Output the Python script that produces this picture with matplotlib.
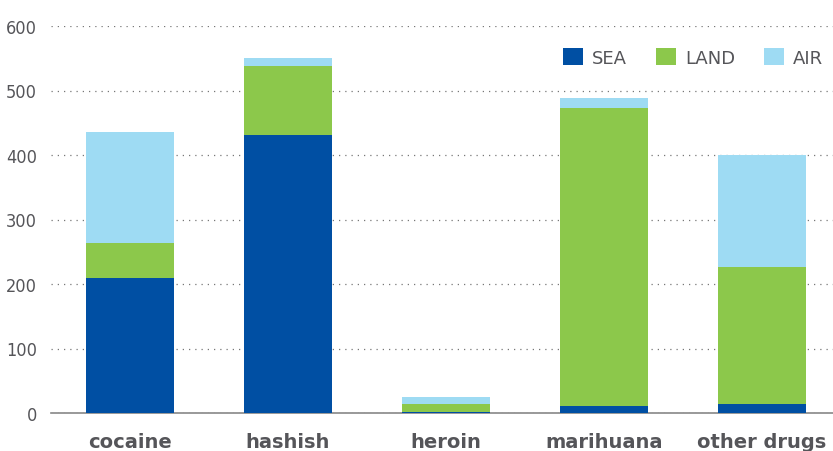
import numpy as np
import matplotlib.pyplot as plt

drugs = ["cocaine", "hashish", "heroin", "marihuana", "other drugs"]
sea = [209, 431, 1, 11, 14]
land = [55, 107, 13, 462, 212]
air = [171, 12, 11, 15, 174]

c_sea = "#004fa3"
c_land = "#8cc84b"
c_air = "#9edbf3"
grey = "#555559"

fig = plt.figure(figsize=(8.33, 4.52), dpi=100)
ax = fig.add_axes([51 / 833, 1 - 414 / 452, (833 - 51) / 833, (414 - 27) / 452])

x = np.arange(len(drugs))
w = 0.56
sea = np.array(sea)
land = np.array(land)
air = np.array(air)
ax.bar(x, sea, w, color=c_sea, label="SEA", zorder=3)
ax.bar(x, land, w, bottom=sea, color=c_land, label="LAND", zorder=3)
ax.bar(x, air, w, bottom=sea + land, color=c_air, label="AIR", zorder=3)

ax.set_xlim(-0.5, 4.45)
ax.set_ylim(0, 600)
ax.set_yticks(range(0, 700, 100))
ax.yaxis.grid(True, linestyle=(0, (1, 4)), color="#777777", linewidth=0.9)
ax.set_axisbelow(True)
for s in ["top", "right", "left"]:
    ax.spines[s].set_visible(False)
ax.spines["bottom"].set_color("#888888")
ax.spines["bottom"].set_linewidth(1.2)

ax.tick_params(axis="y", length=0, pad=10, labelsize=13, labelcolor=grey)
ax.tick_params(axis="x", length=0, pad=14)
ax.set_xticks(x)
ax.set_xticklabels(drugs, fontsize=14, fontweight="bold", color=grey)
for t in ax.get_yticklabels():
    t.set_fontstretch("condensed")

leg = ax.legend(loc="upper right", ncol=3, frameon=False, bbox_to_anchor=(1.008, 0.985),
                fontsize=13, handlelength=1.1, handleheight=1.1, columnspacing=1.6,
                handletextpad=0.5)
for t in leg.get_texts():
    t.set_color(grey)

fig.savefig("out.png", dpi=100)
